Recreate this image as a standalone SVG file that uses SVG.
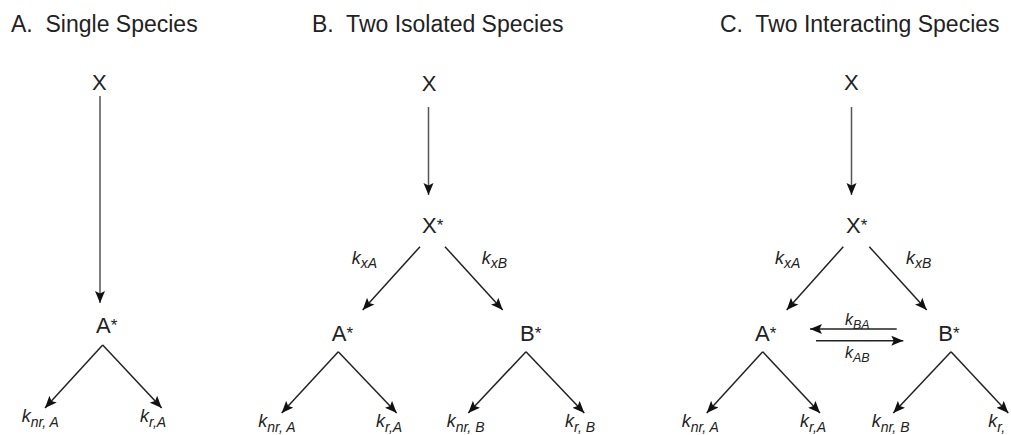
<svg xmlns="http://www.w3.org/2000/svg" width="1011" height="435" viewBox="0 0 1011 435">
<style>
.title{font-family:"Liberation Sans",Arial,sans-serif;font-size:23px;fill:#222}
.node{font-family:"Liberation Sans",Arial,sans-serif;font-size:22px;fill:#222}
.star{font-size:17px}
.k{font-family:"Liberation Sans",Arial,sans-serif;font-style:italic;font-size:18px;fill:#222}
.sub{font-size:14px}
.ks{font-family:"Liberation Sans",Arial,sans-serif;font-style:italic;font-size:16px;fill:#222}
.ssub{font-size:12.5px}
.e{stroke:#222;stroke-width:1.5;fill:none;marker-end:url(#ah)}
.v{stroke:#555;stroke-width:1.5;fill:none;marker-end:url(#ah)}
</style>
<defs>
<marker id="ah" markerUnits="userSpaceOnUse" markerWidth="13" markerHeight="11" viewBox="0 0 13 11" refX="12" refY="5.5" orient="auto">
<path d="M0,0.5 L12,5.5 L0,10.5 L2.5,5.5 z" fill="#111"/>
</marker>
</defs>
<rect width="1011" height="435" fill="#fff"/>
<g id="titles">
<text class="title" x="11" y="32" xml:space="preserve">A.  Single Species</text>
<text class="title" x="312" y="32" xml:space="preserve">B.  Two Isolated Species</text>
<text class="title" x="720" y="32" xml:space="preserve">C.  Two Interacting Species</text>
</g>
<g id="connectors">
<line class="v" x1="100" y1="96" x2="100" y2="303"/>
<line class="e" x1="102.7" y1="345" x2="45" y2="408"/>
<line class="e" x1="102.7" y1="345" x2="161.7" y2="408"/>
<line class="v" x1="428.5" y1="107" x2="428.5" y2="195"/>
<line class="e" x1="420" y1="246.7" x2="362.7" y2="310"/>
<line class="e" x1="445" y1="246.7" x2="502.7" y2="310"/>
<line class="e" x1="338.3" y1="351.7" x2="281.7" y2="413"/>
<line class="e" x1="338.3" y1="351.7" x2="396.7" y2="413"/>
<line class="e" x1="526" y1="351.7" x2="468.3" y2="413"/>
<line class="e" x1="526" y1="351.7" x2="584.3" y2="413"/>
<line class="v" x1="851.5" y1="107" x2="851.5" y2="195"/>
<line class="e" x1="843.3" y1="246.7" x2="786.7" y2="310"/>
<line class="e" x1="869.3" y1="246.7" x2="926.7" y2="310"/>
<line class="e" x1="762.7" y1="351.7" x2="706.7" y2="413"/>
<line class="e" x1="762.7" y1="351.7" x2="820" y2="413"/>
<line class="e" x1="951" y1="351.7" x2="893.3" y2="413"/>
<line class="e" x1="951" y1="351.7" x2="1008.3" y2="413"/>
<line class="e" x1="896.7" y1="329" x2="810" y2="329"/>
<line class="e" x1="816" y1="340.7" x2="903.3" y2="340.7"/>
</g>
<g id="panelA">
<g id="A-X"><text class="node" x="92" y="90">X</text></g>
<g id="A-Astar"><text class="node" x="96" y="333">A<tspan class="star" dy="-2">*</tspan></text></g>
<g id="A-knrA"><text class="k" x="21.7" y="421.7">k<tspan class="sub" dy="5">nr, A</tspan></text></g>
<g id="A-krA"><text class="k" x="140" y="421.7">k<tspan class="sub" dy="5">r,A</tspan></text></g>
</g>
<g id="panelB">
<g id="B-X"><text class="node" x="421.7" y="90.5">X</text></g>
<g id="B-Xstar"><text class="node" x="422" y="232.5">X<tspan class="star" dy="-2">*</tspan></text></g>
<g id="B-kxA"><text class="k" x="351.7" y="264">k<tspan class="sub" dy="4">xA</tspan></text></g>
<g id="B-kxB"><text class="k" x="481.7" y="264">k<tspan class="sub" dy="4">xB</tspan></text></g>
<g id="B-Astar"><text class="node" x="331.7" y="340.7">A<tspan class="star" dy="-2">*</tspan></text></g>
<g id="B-Bstar"><text class="node" x="520" y="340.7">B<tspan class="star" dy="-2">*</tspan></text></g>
<g id="B-knrA"><text class="k" x="258.3" y="427">k<tspan class="sub" dy="5">nr, A</tspan></text></g>
<g id="B-krA"><text class="k" x="376" y="427">k<tspan class="sub" dy="5">r,A</tspan></text></g>
<g id="B-knrB"><text class="k" x="446.7" y="427">k<tspan class="sub" dy="5">nr, B</tspan></text></g>
<g id="B-krB"><text class="k" x="565" y="427">k<tspan class="sub" dy="5">r, B</tspan></text></g>
</g>
<g id="panelC">
<g id="C-X"><text class="node" x="844" y="90">X</text></g>
<g id="C-Xstar"><text class="node" x="846" y="232.5">X<tspan class="star" dy="-2">*</tspan></text></g>
<g id="C-kxA"><text class="k" x="775" y="264">k<tspan class="sub" dy="4">xA</tspan></text></g>
<g id="C-kxB"><text class="k" x="906" y="264">k<tspan class="sub" dy="4">xB</tspan></text></g>
<g id="C-Astar"><text class="node" x="755" y="340.7">A<tspan class="star" dy="-2">*</tspan></text></g>
<g id="C-Bstar"><text class="node" x="938.3" y="340.7">B<tspan class="star" dy="-2">*</tspan></text></g>
<g id="C-kBA"><text class="ks" x="845" y="325">k<tspan class="ssub" dy="4">BA</tspan></text></g>
<g id="C-kAB"><text class="ks" x="845" y="358">k<tspan class="ssub" dy="4">AB</tspan></text></g>
<g id="C-knrA"><text class="k" x="681.7" y="427">k<tspan class="sub" dy="5">nr, A</tspan></text></g>
<g id="C-krA"><text class="k" x="800" y="427">k<tspan class="sub" dy="5">r,A</tspan></text></g>
<g id="C-knrB"><text class="k" x="871.7" y="427">k<tspan class="sub" dy="5">nr, B</tspan></text></g>
<g id="C-krB"><text class="k" x="988.3" y="427">k<tspan class="sub" dy="5">r,</tspan></text></g>
</g>
</svg>
